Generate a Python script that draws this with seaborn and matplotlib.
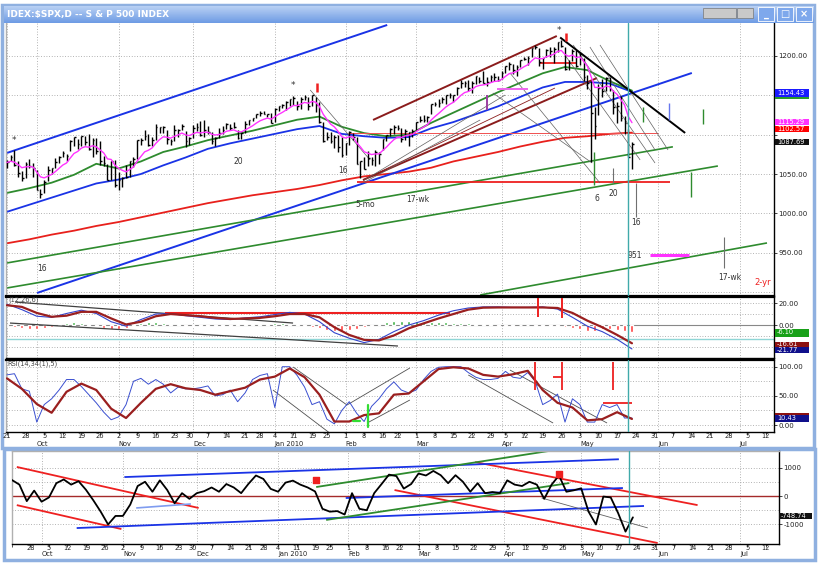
import numpy as np
import pandas as pd
import seaborn as sns
import matplotlib.pyplot as plt
import matplotlib.transforms as mtransforms
from matplotlib.patches import Rectangle
from matplotlib.colors import LinearSegmentedColormap

# S&P 500 daily bars, 21 Sep 2009 .. 21 May 2010 (one value per session)
highs = [1067.6, 1073.8, 1080.2, 1066.3, 1053.5, 1065.1, 1069.6, 1063.4,
         1054.7, 1030.6, 1042.6, 1060.5, 1058.0, 1070.7, 1073.0, 1079.5, 1075.1, 1093.2, 1096.6, 1094.7,
         1098.6, 1098.1, 1101.4, 1095.2, 1095.8, 1091.7, 1072.5, 1063.3, 1066.8, 1068.0,
         1052.2, 1046.5, 1061.0, 1066.6, 1071.3, 1093.1, 1096.4, 1105.4, 1101.2, 1097.6,
         1113.7, 1110.3, 1111.1, 1105.4, 1094.7, 1112.4, 1107.6, 1113.0, 1105.0, 1097.1,
         1112.3, 1115.0, 1117.3, 1119.1, 1110.7, 1103.6, 1096.9, 1108.5, 1110.7, 1114.8, 1114.1,
         1116.2, 1106.3, 1103.7, 1117.7, 1118.5, 1121.6, 1126.5, 1130.4, 1130.4, 1126.4, 1127.6,
         1133.9, 1136.6, 1139.2, 1142.5, 1145.4, 1149.7, 1143.0, 1148.4, 1150.4, 1147.8,
         1150.5, 1147.9, 1141.6, 1115.5, 1102.9, 1103.7, 1099.5, 1099.7, 1096.5,
         1089.4, 1104.7, 1102.7, 1097.3, 1067.1, 1071.2, 1079.3, 1071.7, 1080.0, 1077.8,
         1095.0, 1100.1, 1108.2, 1112.4, 1112.3, 1108.6, 1107.4, 1103.5, 1107.2,
         1116.0, 1123.5, 1125.6, 1123.7, 1139.4, 1141.1, 1145.4, 1148.3, 1150.2, 1153.4, 1150.5, 1160.3,
         1169.2, 1167.8, 1169.8, 1167.8, 1174.7, 1173.0, 1180.7, 1173.9, 1175.3, 1177.8, 1174.9,
         1181.4, 1187.7, 1191.8, 1189.6, 1188.6, 1194.7, 1199.2, 1200.0, 1210.7, 1213.9, 1210.2,
         1197.9, 1208.6, 1211.0, 1211.4, 1217.3, 1219.8, 1212.0, 1195.1, 1209.4, 1207.9,
         1205.1, 1197.1, 1176.0, 1167.6, 1135.1, 1163.9, 1170.5, 1173.6, 1173.6, 1157.2,
         1141.9, 1148.7, 1124.3, 1107.3, 1090.2]
lows = [1057.5, 1066.4, 1060.4, 1045.9, 1041.2, 1045.0, 1057.8, 1046.5,
        1029.5, 1019.9, 1025.9, 1040.9, 1050.2, 1057.9, 1063.4, 1071.6, 1066.7, 1078.7, 1085.9, 1081.5,
        1086.2, 1086.9, 1080.2, 1071.0, 1075.3, 1061.2, 1060.6, 1042.2, 1043.0, 1033.4,
        1029.4, 1033.9, 1045.2, 1046.5, 1059.3, 1069.3, 1087.4, 1093.0, 1085.1, 1085.3,
        1093.7, 1102.2, 1102.7, 1088.3, 1087.3, 1091.9, 1097.6, 1105.9, 1083.7, 1086.3,
        1095.6, 1104.9, 1098.7, 1096.5, 1100.8, 1088.6, 1085.9, 1096.0, 1101.4, 1107.3, 1105.4,
        1107.9, 1095.1, 1093.9, 1102.5, 1112.2, 1117.0, 1121.1, 1123.5, 1126.1, 1121.9, 1114.8,
        1116.6, 1129.7, 1133.9, 1131.3, 1136.2, 1138.0, 1131.2, 1133.2, 1143.8, 1131.4,
        1135.8, 1129.3, 1114.8, 1090.2, 1092.6, 1089.9, 1083.1, 1078.5, 1071.6,
        1073.9, 1087.4, 1093.8, 1062.8, 1044.5, 1056.5, 1060.1, 1062.0, 1060.1, 1063.0,
        1079.9, 1091.8, 1097.7, 1100.8, 1105.4, 1091.0, 1092.6, 1086.0, 1097.6,
        1105.4, 1116.0, 1116.6, 1116.0, 1125.7, 1136.8, 1134.9, 1140.1, 1139.0, 1147.0, 1141.0, 1150.3,
        1159.9, 1161.2, 1155.3, 1152.9, 1163.8, 1166.0, 1165.1, 1161.5, 1166.7, 1168.5, 1167.9,
        1170.7, 1178.7, 1182.8, 1177.3, 1175.1, 1186.0, 1194.7, 1188.2, 1198.7, 1208.5, 1186.8,
        1183.7, 1199.0, 1198.9, 1190.6, 1205.1, 1211.1, 1181.6, 1181.8, 1193.4, 1186.3,
        1188.6, 1168.1, 1158.2, 1065.8, 1094.2, 1125.3, 1147.7, 1156.0, 1156.1, 1126.1,
        1115.0, 1117.2, 1100.7, 1071.6, 1055.9]
closes = [1064.66, 1071.66, 1060.87, 1050.78, 1044.38, 1062.98, 1060.61, 1057.08,
          1029.85, 1025.21, 1040.46, 1054.72, 1057.58, 1065.48, 1071.49, 1076.19, 1073.19, 1092.02, 1096.56, 1087.68,
          1097.91, 1091.06, 1081.40, 1092.91, 1079.60, 1066.95, 1063.41, 1042.63, 1066.11, 1036.19,
          1042.88, 1045.41, 1046.50, 1066.63, 1069.30, 1093.08, 1093.01, 1098.51, 1087.24, 1093.48,
          1109.30, 1110.32, 1109.80, 1094.90, 1091.38, 1106.24, 1105.65, 1110.63, 1091.49, 1095.63,
          1108.86, 1109.24, 1099.92, 1105.98, 1103.25, 1091.94, 1095.95, 1102.35, 1106.41, 1114.11, 1107.93,
          1109.18, 1096.08, 1102.47, 1114.05, 1118.02, 1120.59, 1126.48, 1127.78, 1126.20, 1126.42, 1115.10,
          1132.99, 1136.52, 1137.14, 1141.69, 1144.98, 1146.98, 1136.22, 1145.68, 1148.46, 1136.03,
          1150.23, 1138.04, 1116.48, 1091.76, 1096.78, 1092.17, 1097.50, 1084.53, 1073.87,
          1089.19, 1103.32, 1097.28, 1063.11, 1066.19, 1056.74, 1070.52, 1068.13, 1078.47, 1075.51,
          1094.87, 1099.51, 1106.75, 1109.17, 1108.01, 1094.60, 1105.24, 1102.94, 1104.49,
          1115.71, 1118.31, 1118.79, 1122.97, 1138.70, 1138.50, 1140.45, 1145.61, 1150.24, 1149.99, 1150.51, 1159.46,
          1166.21, 1165.83, 1159.90, 1165.81, 1174.17, 1167.72, 1165.73, 1166.59, 1173.22, 1173.27, 1169.43,
          1178.10, 1187.44, 1189.44, 1182.45, 1186.44, 1194.37, 1196.48, 1197.30, 1210.65, 1211.67, 1192.13,
          1197.52, 1207.17, 1205.94, 1208.67, 1217.28, 1212.05, 1183.71, 1191.36, 1206.78, 1186.69,
          1202.26, 1173.60, 1165.87, 1128.15, 1110.88, 1159.73, 1155.79, 1171.67, 1157.44, 1135.68,
          1136.94, 1120.80, 1115.05, 1071.59, 1087.69]
holidays = ['2009-11-26', '2009-12-25', '2010-01-01', '2010-01-18', '2010-02-15', '2010-04-02']

# moving averages every 6 sessions
ma_green = [1026, 1032, 1039, 1049, 1063, 1057, 1066, 1078, 1085, 1093,
            1099, 1105, 1112, 1119, 1123, 1110, 1102, 1098, 1100, 1115,
            1128, 1141, 1154, 1166, 1178, 1186, 1182, 1168, 1156]
ma_blue = [1002, 1011, 1020, 1029, 1038, 1043, 1050, 1061, 1071, 1082,
           1089, 1095, 1101, 1107, 1111, 1101, 1098, 1096, 1097, 1108,
           1116, 1126, 1136, 1148, 1160, 1167, 1167, 1165, 1154.4]
ma_red = [962, 967, 973, 978, 984, 989, 995, 1001, 1007, 1013,
          1018, 1023, 1027, 1031, 1036, 1042, 1047, 1050, 1053, 1058,
          1066, 1072, 1078, 1085, 1091, 1096, 1098, 1101, 1102.6]

# MACD(12,26,6): lines every 4 sessions, histogram every 2 sessions
macd_line = [19, 14, 8, 7, 10.5, 13.5, 10.5, 3, -1, 5,
             10, 10.5, 8.5, 7, 5.5, 5, 6.5, 7.5, 9.5, 11.5,
             10, 3, -7, -12, -16, -13, -6, 0, 4, 9,
             13, 15.5, 16.5, 16.5, 16, 16, 16.5, 14.5, 7, -1,
             -6, -13, -21.8]
macd_signal = [18, 16.5, 11, 7.5, 8.5, 12, 12, 6, 0.5, 3,
               8, 10, 9, 8, 6.5, 5.5, 6, 6.5, 8, 10,
               10, 7, -2, -9, -13.5, -14, -9.5, -3, 1.5, 6,
               10, 14, 15.8, 16, 16, 16, 16, 15.5, 11, 4,
               -2, -9, -16.6]
macd_hist = [-1, -2, -3, -4, -4, -3, -1.5, 1, 2, 2.5,
             2, 1, -1, -2.5, -3.5, -3.5, -2.5, -1, 2, 3,
             3, 2, 1, 0.5, -0.5, -1, -1, -0.5, -1, -1,
             -0.5, 0.5, 0.5, 0.5, 1, 1, 1.5, 1.5, 1, 0.5,
             -0.5, -1.5, -3, -4.5, -5, -5, -4.5, -3.5, -2, -1,
             1, 2.5, 3.5, 4, 4, 3.5, 3, 3, 2.5, 2.5,
             2, 2, 1.5, 1, 0.5, 0.5, -0.5, -0.5, -0.5, 0.3,
             0.3, -0.5, -0.5, -1, -1, -2, -3, -4, -5, -5,
             -4, -4, -4.5, -5.5, -6.1]

# RSI(14,34(1),5): fast every 2 sessions, slow every 4 sessions
rsi_fast = [86, 88, 62, 58, 5, 35, 45, 60, 78, 78,
            66, 52, 38, 22, 9, 14, 35, 75, 80, 70,
            78, 70, 55, 65, 62, 62, 64, 67, 50, 52,
            60, 40, 55, 78, 85, 88, 30, 100, 100, 85,
            65, 35, 40, 10, 2, 25, 40, 20, 6, 32,
            45, 62, 74, 60, 55, 60, 78, 92, 99, 100,
            100, 100, 90, 82, 78, 78, 80, 92, 82, 80,
            90, 75, 35, 42, 53, 5, 45, 35, 5, 5,
            35, 30, 35, 12, 12]
rsi_slow = [80, 62, 36, 21, 57, 71, 60, 28, 12, 38,
            62, 70, 63, 60, 52, 58, 64, 78, 83, 97,
            82, 52, 6, 6, 17, 20, 52, 54, 75, 96,
            99, 97, 86, 83, 87, 93, 60, 38, 30, 8,
            10, 22, 10.4]

# lower window oscillator, every 2 sessions
breadth = [560, 400, -180, 190, -200, -50, 450, 580, 400, 520,
           220, -150, -550, -1000, -700, -700, -300, 350, 500, 150,
           550, 210, -255, 100, -100, 100, 170, 300, 150, 420,
           300, 100, 430, 720, 600, 250, 150, 470, 540, 400,
           300, 160, -450, -550, -530, -650, 100, -450, -500, 100,
           420, 750, 700, 260, 420, 790, 720, 880, 730, 450,
           730, 500, 150, 450, 100, 140, 100, 550, 400, 350,
           500, 400, -100, 400, 720, 150, 200, 270, -550, -1000,
           -20, -50, -600, -1250, -749]

# hand drawn trend lines (session, value, session, value)
blue_lines = [(0, 1076.8, 102.2, 1239.4), (8.1, 898.9, 184.1, 1178.4)]
green_lines = [(0, 905.2, 191.1, 1060.2), (0, 937.0, 179.0, 1084.6), (127.2, 896.3, 204.3, 962.4)]
brown_lines = [(98.4, 1118.7, 147.8, 1225.4), (95.7, 1042.4, 158.6, 1172.0)]
brown_thin = [(95.7, 1042.4, 147.3, 1159.3)]
red_levels = [(94.1, 178.2, 1040), (143.3, 153.2, 1191.5)]
red_thin_levels = [(91.7, 175, 1102.2)]
black_lines = [(148.7, 1223.5, 182.3, 1102.2)]
gray_lines = [(81.5, 1156.8, 97.6, 1067.9), (95.7, 1041.2, 133.9, 1150.4), (95.7, 1038.7, 127.2, 1118.7),
              (130.6, 1153.0, 157.3, 1064.0), (135.2, 1178.4, 159.4, 1038.6), (152.2, 1214.0, 174.2, 1064.0),
              (159.4, 1214.0, 177.7, 1080.6), (150.0, 1201.0, 170.2, 1067.9), (156.7, 1211.4, 174.2, 1080.6)]
red_ticks = [(83.3, 1154.3, 1165.7), (150.3, 1219, 1229)]
green_ticks = [(157.8, 1036, 1078), (171, 1116, 1135), (187.1, 1114, 1133), (183.9, 1021, 1052)]
gray_ticks = [(169.1, 995, 1039), (162.9, 1039, 1058), (192.7, 930, 970)]
purple_ticks = [(129, 1131, 1150)]
blue_ticks = [(178, 1119, 1140)]
magenta_levels = [(172.8, 183.3, 947.1)]
magenta_thin_levels = [(131.7, 140, 1158)]
notes = [(1.9, 1093, '*'), (76.9, 1162, '*'), (148.4, 1233, '*'), (62.1, 1066, '20'), (90.3, 1055, '16'),
         (96.2, 1011, '5-mo'), (110.5, 1017, '17-wk'), (158.6, 1019, '6'), (162.9, 1025, '20'),
         (169.1, 989, '16'), (9.4, 930, '16'), (168.8, 947, '951'), (194.4, 919, '17-wk')]

macd_trend = [(2.2, 20.9, 76.9, 1.8), (0.8, 1.8, 105.1, -19.1)]
macd_red_levels = [(42.5, 119, 11)]
macd_red_ticks = [(142.7, 7, 25), (149.2, 6, 25)]

rsi_trend = [(71.5, 60, 86.8, -14), (76.9, 99.5, 91.4, 34.3), (91.4, 34.3, 108.3, 97.8),
             (96.8, 3.4, 108.3, 42.9), (124, 85.8, 146.8, 3.4), (135.2, 94.3, 161.3, 3.4)]
rsi_red_ticks = [(141.9, 60, 108), (149.2, 60, 108), (162.9, 60, 108)]
rsi_red_levels = [(146.8, 149.2, 82), (160.2, 168, 37.7)]

low_red = [(1.3, 1020, 50.5, -420), (1.3, -320, 29.6, -1160), (125.3, 1190, 185.5, -320),
           (103.5, 210, 174.7, -1650)]
low_blue = [(30.4, 665, 164.2, 1290), (17.5, -1125, 171, -350), (90.3, -70, 165.3, 280)]
low_lightblue = [(33.6, -420, 48.4, -280)]
low_green = [(82.3, 315, 148.7, 1650), (85, -840, 150.8, 455)]
low_gray = [(143.3, -70, 172, -1120)]

sns.set_theme(style="white")
plt.rcParams['font.family'] = ['DejaVu Sans']

past = pd.bdate_range('2009-09-21', '2010-05-21')
past = past[~past.isin(pd.to_datetime(holidays))]
days = past.append(pd.bdate_range('2010-05-24', '2010-07-16'))
n = len(closes)

bars = pd.DataFrame({'s': np.arange(n), 'high': highs, 'low': lows, 'close': closes})
bars['ema'] = bars['close'].ewm(span=8, adjust=False).mean()
ma = pd.DataFrame({'s': np.arange(0, n, 6), 'green': ma_green, 'blue': ma_blue, 'red': ma_red})
osc4 = pd.DataFrame({'s': np.arange(0, n, 4), 'macd': macd_line, 'signal': macd_signal, 'rsi_slow': rsi_slow})
osc2 = pd.DataFrame({'s': np.arange(0, n, 2), 'hist': macd_hist, 'rsi_fast': rsi_fast, 'breadth': breadth})

all_s = pd.Series(np.arange(len(days)), index=days)
week_first = all_s.groupby(days.to_period('W')).first().values
month_first = all_s.groupby(days.to_period('M')).first().values

W, H = 819, 579
X0, DX = 7, 3.72   # pixel of first session, pixels per session


def sx(px):
    return (px - X0) / DX


def box(x0, y0, x1, y1):
    return [x0 / W, 1 - y1 / H, (x1 - x0) / W, (y1 - y0) / H]


fig = plt.figure(figsize=(W / 100, H / 100), dpi=100)
fig.patch.set_facecolor('white')


def fig_rect(x0, y0, x1, y1, **kw):
    fig.add_artist(Rectangle((x0 / W, 1 - y1 / H), (x1 - x0) / W, (y1 - y0) / H,
                             transform=fig.transFigure, **kw))


# window frames
fig_rect(2, 5, 814, 448, fc='white', ec='#8fb0e0', lw=2.5, zorder=-2)
fig_rect(4, 449, 815, 560, fc='white', ec='#8fb0e0', lw=2.5, zorder=-2)

ax_p = fig.add_axes(box(6, 23, 774, 296))
ax_m = fig.add_axes(box(6, 297, 774, 358))
ax_r = fig.add_axes(box(6, 360, 774, 432))
ax_b = fig.add_axes(box(12, 451, 779, 544))

dot = (0, (1, 2.2))
for ax, lim, grid in ((ax_p, (895.0, 1241.9), [900, 950, 1000, 1050, 1100, 1150, 1200]),
                      (ax_m, (-30, 25.5), [20, 10, 0, -10, -20]),
                      (ax_r, (-12, 111.5), [100, 75, 50, 25, 0]),
                      (ax_b, (-1685, 1580), [1000, 500, -500, -1000])):
    ax.set_ylim(*lim)
    ax.set_facecolor('white')
    ax.yaxis.tick_right()
    ax.tick_params(axis='y', right=True, left=False, labelsize=5, length=2, pad=1, width=0.6, colors='#222')
    ax.tick_params(axis='x', bottom=False, labelbottom=False)
    for sp in ax.spines.values():
        sp.set_color('black')
        sp.set_linewidth(1)
    ax.spines['left'].set_color('#b0b0b0')
    for g in grid:
        ax.axhline(g, color='#9a9a9a', lw=0.6, ls=dot, zorder=0)
    for m in month_first:
        ax.axvline(m, color='#9a9a9a', lw=0.6, ls=dot, zorder=0)

for ax in (ax_p, ax_m, ax_r):
    ax.set_xlim(sx(6), sx(774))
ax_b.set_xlim(sx(12), sx(779))
ax_p.spines['top'].set_visible(False)
ax_p.spines['bottom'].set_linewidth(1.6)
ax_m.spines['top'].set_linewidth(1.6)
ax_r.spines['top'].set_linewidth(1.6)
ax_b.spines['top'].set_color('#b0b0b0')

# 1150 and 1100 sit under the value tags in the reference, so only their ticks are kept
ax_p.set_yticks([950, 1000, 1050, 1100, 1150, 1200])
ax_p.set_yticklabels(['950.00', '1000.00', '1050.00', '', '', '1200.00'])
ax_m.set_yticks([20, 0])
ax_m.set_yticklabels(['20.00', '0.00'])
ax_r.set_yticks([100, 50, 0])
ax_r.set_yticklabels(['100.00', '50.00', '0.00'])
ax_b.set_yticks([1000, 0, -1000])
ax_b.set_yticklabels(['1000', '0', '-1000'])


def seg(ax, lines, color, lw, z=2.5):
    for s1, v1, s2, v2 in lines:
        ax.plot([s1, s2], [v1, v2], color=color, lw=lw, solid_capstyle='butt', zorder=z)


def levels(ax, lines, color, lw, z=2.5):
    for s1, s2, v in lines:
        ax.plot([s1, s2], [v, v], color=color, lw=lw, solid_capstyle='butt', zorder=z)


def ticks(ax, lines, color, lw, z=3.5):
    for s, v1, v2 in lines:
        ax.plot([s, s], [v1, v2], color=color, lw=lw, solid_capstyle='butt', zorder=z)


# ---- price panel ----
sns.lineplot(data=ma, x='s', y='red', ax=ax_p, color='#e8201c', linewidth=1.3, legend=False, zorder=2)
sns.lineplot(data=ma, x='s', y='blue', ax=ax_p, color='#1a33e6', linewidth=1.3, legend=False, zorder=2)
sns.lineplot(data=ma, x='s', y='green', ax=ax_p, color='#2e8b2e', linewidth=1.3, legend=False, zorder=2)
seg(ax_p, blue_lines, '#1a33e6', 1.4)
seg(ax_p, green_lines, '#2e8b2e', 1.2)
seg(ax_p, brown_lines, '#8b1c1c', 1.4)
seg(ax_p, brown_thin, '#8b1c1c', 0.6)
levels(ax_p, red_levels, '#ee2020', 1.3)
levels(ax_p, red_thin_levels, '#f05050', 0.7)
seg(ax_p, gray_lines, '#606060', 0.5)
seg(ax_p, black_lines, 'black', 1.4)
ax_p.vlines(bars['s'], bars['low'], bars['high'], color='black', lw=1.0, zorder=3)
ax_p.hlines(bars['close'], bars['s'], bars['s'] + 0.45, color='black', lw=1.0, zorder=3)
sns.lineplot(data=bars, x='s', y='ema', ax=ax_p, color='#ff33ff', linewidth=1.0, legend=False, zorder=4)
ticks(ax_p, red_ticks, '#ee2020', 1.8)
ticks(ax_p, green_ticks, '#2e8b2e', 1.0)
ticks(ax_p, gray_ticks, '#707070', 0.8)
ticks(ax_p, purple_ticks, '#9b3fa0', 1.4)
ticks(ax_p, blue_ticks, '#6677ee', 1.0)
levels(ax_p, magenta_levels, '#ff33ff', 2.2)
levels(ax_p, magenta_thin_levels, '#ee66ee', 1.4)
for s, v, t in notes:
    ax_p.text(s, v, t, fontsize=6.5 if t == '*' else 5.5, color='#333333', ha='center', va='center')
ax_p.text(203.2, 911.6, '2-yr', fontsize=6, color='#ee2020', ha='center', va='center')

# ---- MACD panel ----
ax_m.axhline(0, color='#888888', lw=0.8, zorder=1)
ax_m.axhline(-12.7, color='#8fd6d6', lw=1.0, zorder=1)
hist_colors = ['#3cb043' if h > 0 else '#ff4040' for h in macd_hist]
ax_m.bar(osc2['s'], osc2['hist'], width=0.8, color=hist_colors, zorder=2)
seg(ax_m, macd_trend, '#404040', 0.9)
levels(ax_m, macd_red_levels, '#ee2020', 1.5)
sns.lineplot(data=osc4, x='s', y='macd', ax=ax_m, color='#3344cc', linewidth=0.8, legend=False, zorder=3)
sns.lineplot(data=osc4, x='s', y='signal', ax=ax_m, color='#9a1f1f', linewidth=1.6, legend=False, zorder=3)
ticks(ax_m, macd_red_ticks, '#ee2020', 1.4)

# ---- RSI panel ----
seg(ax_r, rsi_trend, '#505050', 0.6)
sns.lineplot(data=osc2, x='s', y='rsi_fast', ax=ax_r, color='#3a4fd0', linewidth=0.7, legend=False, zorder=3)
sns.lineplot(data=osc4, x='s', y='rsi_slow', ax=ax_r, color='#9a1f1f', linewidth=1.6, legend=False, zorder=3)
ticks(ax_r, rsi_red_ticks, '#ee2020', 1.3)
levels(ax_r, rsi_red_levels, '#ee2020', 1.3)
ax_r.plot([97, 97], [-3, 34], color='#33dd33', lw=1.6, zorder=4)
ax_r.plot([93, 95], [7, 7], color='#33dd33', lw=1.6, zorder=4)

# ---- lower window ----
ax_b.axhline(0, color='#a52a2a', lw=1.0, zorder=1)
seg(ax_b, low_red, '#ee2020', 1.3)
seg(ax_b, low_blue, '#1a33e6', 1.3)
seg(ax_b, low_lightblue, '#7f9cf0', 1.2)
seg(ax_b, low_green, '#2e8b2e', 1.3)
seg(ax_b, low_gray, '#606060', 0.6)
sns.lineplot(data=osc2, x='s', y='breadth', ax=ax_b, color='black', linewidth=1.3, legend=False, zorder=3)
ax_b.scatter([82.3, 148.1], [560, 770], marker='s', s=14, color='#ee2020', zorder=4)

for ax in (ax_p, ax_m, ax_r, ax_b):
    ax.axvline(167, color='#40aaaa', lw=1.0, zorder=5)
    ax.set_xlabel('')
    ax.set_ylabel('')

# date axis labels
for ax, day_y, mon_y in ((ax_r, -0.02, -0.125), (ax_b, -0.01, -0.075)):
    tr = mtransforms.blended_transform_factory(ax.transData, ax.transAxes)
    lo, hi = ax.get_xlim()
    ax.set_xticks(week_first)
    ax.tick_params(axis='x', bottom=True, length=2, width=0.6, color='#333', labelbottom=False)
    for s in week_first:
        if lo - 1 <= s <= hi:
            ax.text(s, day_y, str(days[s].day), transform=tr, fontsize=4.8, ha='center', va='top', color='#222')
    for s in month_first:
        if lo + 2 <= s <= hi:
            d = days[s]
            lab = d.strftime('%b') + (' 2010' if d.month == 1 else '')
            ax.text(s, mon_y, lab, transform=tr, fontsize=4.8, ha='left', va='top', color='#222')

# panel captions
fig.text(8 / W, 1 - 300 / H, '(12,26,6)', fontsize=4.8, color='#444444', va='center')
fig.text(7 / W, 1 - 364 / H, 'RSI(14,34(1),5)', fontsize=4.8, color='#444444', va='center')


# value tags at the right edge
def tag(x0, yc, h, text, fc, w=34):
    fig_rect(x0, yc - h / 2, x0 + w, yc + h / 2, fc=fc, ec='none', zorder=3)
    if text:
        fig.text((x0 + 2) / W, 1 - yc / H, text, color='white', fontsize=4.8, va='center', ha='left', zorder=4)


tag(775, 93, 8, '1154.43', '#1a1aff')
fig_rect(775, 97, 809, 98.5, fc='#2a9a2a', ec='none', zorder=3)
tag(775, 122, 6.5, '1115.29', '#ff33ff')
tag(775, 128.7, 6, '1102.57', '#ff0000')
tag(775, 142, 6.5, '1087.69', '#111111')
tag(775, 332.5, 8, '-6.10', '#18a018')
tag(775, 344.5, 6, '-16.61', '#8b1010')
tag(775, 350.3, 6, '-21.77', '#10108b')
tag(775, 414, 2.5, '', '#8b1010')
tag(775, 418.5, 7, '10.43', '#10108b')
tag(779, 516, 6.5, '-748.74', '#111111', w=33)

# title bar
tb = fig.add_axes(box(4, 6, 814, 23))
tb.imshow(np.linspace(0, 1, 20)[:, None], aspect='auto', extent=[0, 1, 0, 1],
          cmap=LinearSegmentedColormap.from_list('tb', ['#b8d0f4', '#6f9ce4']))
tb.axis('off')
tb.text(0.004, 0.5, r'IDEX:\$SPX,D -- S & P 500 INDEX', color='white', fontsize=6.5,
        fontweight='bold', va='center', transform=tb.transAxes)
fig_rect(703, 8.5, 736, 17.5, fc='#c9c9c9', ec='#777777', lw=0.5, zorder=3)
fig_rect(737, 8.5, 753, 17.5, fc='#c9c9c9', ec='#777777', lw=0.5, zorder=3)
for bx, glyph in ((758, '_'), (777, '□'), (796, '×')):
    fig_rect(bx, 7, bx + 16, 21, fc='#7ea8ec', ec='white', lw=0.6, zorder=3)
    fig.text((bx + 8) / W, 1 - 14 / H, glyph, color='white', fontsize=7, fontweight='bold',
             ha='center', va='center', zorder=4)

fig.savefig('out.png', dpi=100)
